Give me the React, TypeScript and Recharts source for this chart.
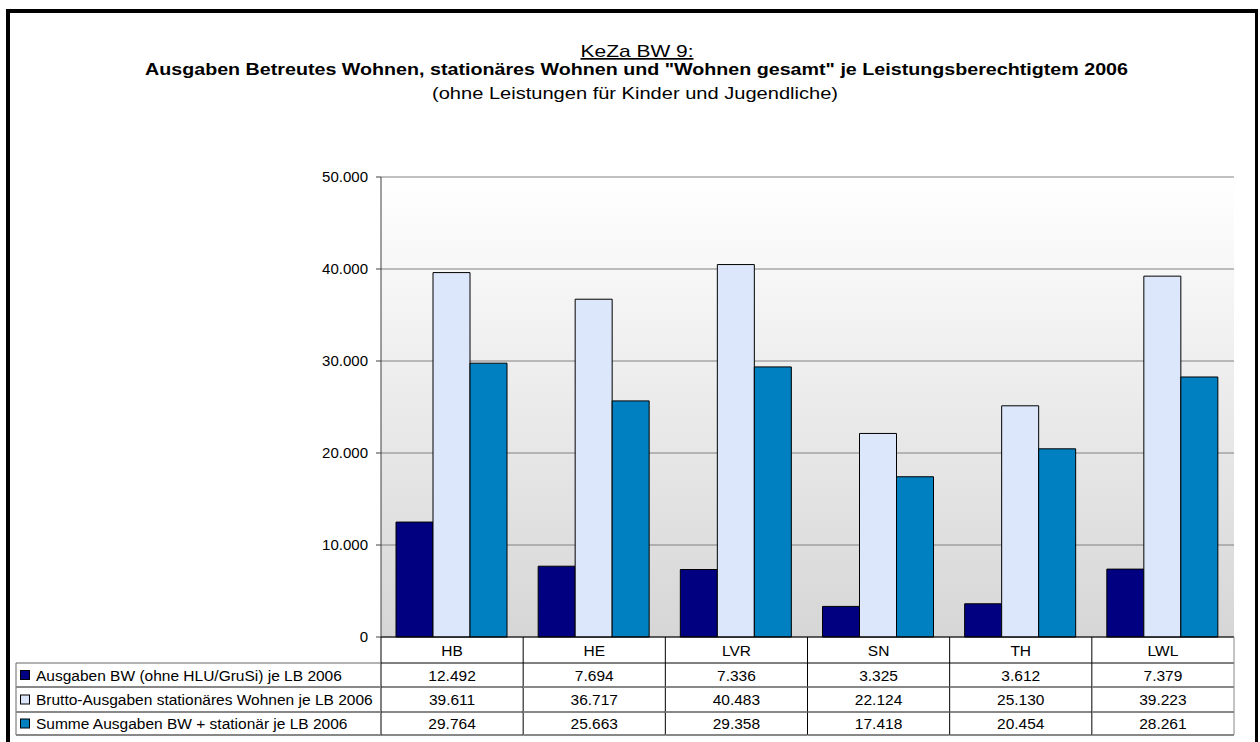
import { BarChart, Bar, XAxis, YAxis, CartesianGrid, ReferenceArea } from 'recharts'

const categories = ['HB', 'HE', 'LVR', 'SN', 'TH', 'LWL']
const ausgabenBW = [12492, 7694, 7336, 3325, 3612, 7379]
const bruttoStationaer = [39611, 36717, 40483, 22124, 25130, 39223]
const summeBW = [29764, 25663, 29358, 17418, 20454, 28261]
const yTicks = [0, 10000, 20000, 30000, 40000, 50000]

const seriesNames = [
  'Ausgaben BW (ohne HLU/GruSi) je LB 2006',
  'Brutto-Ausgaben stationäres Wohnen je LB 2006',
  'Summe Ausgaben BW + stationär je LB 2006',
]
const seriesKeys = ['bw', 'brutto', 'summe']
const seriesValues = [ausgabenBW, bruttoStationaer, summeBW]
const COLORS = ['#000080', '#dde7fb', '#0080c0']

const data = categories.map((c, i) => ({
  name: c,
  bw: ausgabenBW[i],
  brutto: bruttoStationaer[i],
  summe: summeBW[i],
}))

const FONT = '"Liberation Sans", Arial, sans-serif'
// row boundaries of the data table, measured from the x axis line
const ROWS = [0, 26, 50, 75, 98]

const fmt = (n: number) => String(n).replace(/\B(?=(\d{3})+(?!\d))/g, '.')

function TableTick(props: any) {
  const { x, y, payload, index } = props
  const half = payload && payload.offset ? payload.offset : 71
  const left = x - half
  const right = x + half
  const mid = (k: number) => y + (ROWS[k] + ROWS[k + 1]) / 2
  return (
    <g fontFamily={FONT} fontSize={15.5} fill="#000">
      <text x={x} y={mid(0)} textAnchor="middle" dominantBaseline="central">{payload.value}</text>
      {seriesValues.map((vals, r) => (
        <text key={r} x={x} y={mid(r + 1)} textAnchor="middle" dominantBaseline="central">
          {fmt(vals[index])}
        </text>
      ))}
      <line x1={left} x2={right} y1={y + ROWS[1]} y2={y + ROWS[1]} stroke="#000" />
      <line x1={left} x2={right} y1={y + ROWS[2]} y2={y + ROWS[2]} stroke="#888" strokeWidth={2} />
      <line x1={left} x2={right} y1={y + ROWS[3]} y2={y + ROWS[3]} stroke="#888" strokeWidth={2} />
      <line x1={left} x2={right} y1={y + ROWS[4]} y2={y + ROWS[4]} stroke="#888" strokeWidth={2} />
      <line x1={right} x2={right} y1={y} y2={y + ROWS[4]} stroke={index === categories.length - 1 ? '#888' : '#000'} />
      {index === 0 && (
        <g>
          <line x1={left} x2={left} y1={y} y2={y + ROWS[4]} stroke="#000" />
          <line x1={16} x2={16} y1={y + ROWS[1]} y2={y + ROWS[4]} stroke="#666" />
          <line x1={16} x2={left} y1={y + ROWS[1]} y2={y + ROWS[1]} stroke="#666" />
          <line x1={16} x2={left} y1={y + ROWS[2]} y2={y + ROWS[2]} stroke="#888" strokeWidth={2} />
          <line x1={16} x2={left} y1={y + ROWS[3]} y2={y + ROWS[3]} stroke="#888" strokeWidth={2} />
          <line x1={16} x2={left} y1={y + ROWS[4]} y2={y + ROWS[4]} stroke="#888" strokeWidth={2} />
          {seriesNames.map((s, r) => (
            <g key={s}>
              <rect x={20.5} y={mid(r + 1) - 4.5} width={9} height={9} fill={COLORS[r]} stroke="#000" />
              <text x={36} y={mid(r + 1)} dominantBaseline="central">{s}</text>
            </g>
          ))}
        </g>
      )}
    </g>
  )
}

export default function App() {
  return (
    <div style={{ position: 'absolute', left: 0, top: 0, width: 1260, height: 742, background: '#fff', overflow: 'hidden' }}>
      <style>{'body{margin:0;overflow:hidden}'}</style>
      <svg width={0} height={0} style={{ position: 'absolute' }}>
        <defs>
          <linearGradient id="plotBg" x1="0" y1="0" x2="0" y2="1">
            <stop offset="0" stopColor="#ffffff" />
            <stop offset="1" stopColor="#d6d6d6" />
          </linearGradient>
        </defs>
      </svg>
      <div
        style={{
          position: 'absolute', left: 6, top: 9, width: 1252, height: 733, boxSizing: 'border-box',
          borderTop: '4px solid #000', borderLeft: '4px solid #000', borderRight: '3px solid #000',
        }}
      />
      <svg width={1260} height={120} style={{ position: 'absolute', left: 0, top: 0 }} fontFamily={FONT}>
        <text x={637} y={57} textAnchor="middle" fontSize={17} textDecoration="underline"
          textLength={113} lengthAdjust="spacingAndGlyphs">KeZa BW 9:</text>
        <text x={636.5} y={74.5} textAnchor="middle" fontSize={17} fontWeight="bold"
          textLength={983} lengthAdjust="spacingAndGlyphs">
          Ausgaben Betreutes Wohnen, stationäres Wohnen und "Wohnen gesamt" je Leistungsberechtigtem 2006
        </text>
        <text x={635} y={98.5} textAnchor="middle" fontSize={16.5}
          textLength={406} lengthAdjust="spacingAndGlyphs">(ohne Leistungen für Kinder und Jugendliche)</text>
      </svg>
      <div style={{ position: 'absolute', left: 0, top: 0 }}>
        <BarChart
          width={1260}
          height={742}
          data={data}
          margin={{ top: 177, right: 26, bottom: 0, left: 0 }}
          barGap={0}
          barCategoryGap={15}
        >
          <CartesianGrid vertical={false} stroke="#808080" fill="url(#plotBg)" fillOpacity={1} />
          <ReferenceArea fill="none" stroke="#c0c0c0" strokeWidth={1} />
          <YAxis
            width={381}
            domain={[0, 50000]}
            ticks={yTicks}
            interval={0}
            tickFormatter={fmt}
            tick={{ fontSize: 15, fill: '#000', fontFamily: FONT }}
            tickSize={5}
            tickMargin={8}
            tickLine={{ stroke: '#404040' }}
            axisLine={{ stroke: '#404040' }}
          />
          <XAxis
            dataKey="name"
            height={105}
            interval={0}
            tickLine={false}
            tickSize={0}
            tickMargin={0}
            axisLine={{ stroke: '#000' }}
            tick={<TableTick />}
          />
          {seriesKeys.map((k, i) => (
            <Bar key={k} dataKey={k} fill={COLORS[i]} stroke="#000" strokeWidth={1} isAnimationActive={false} />
          ))}
        </BarChart>
      </div>
    </div>
  )
}
